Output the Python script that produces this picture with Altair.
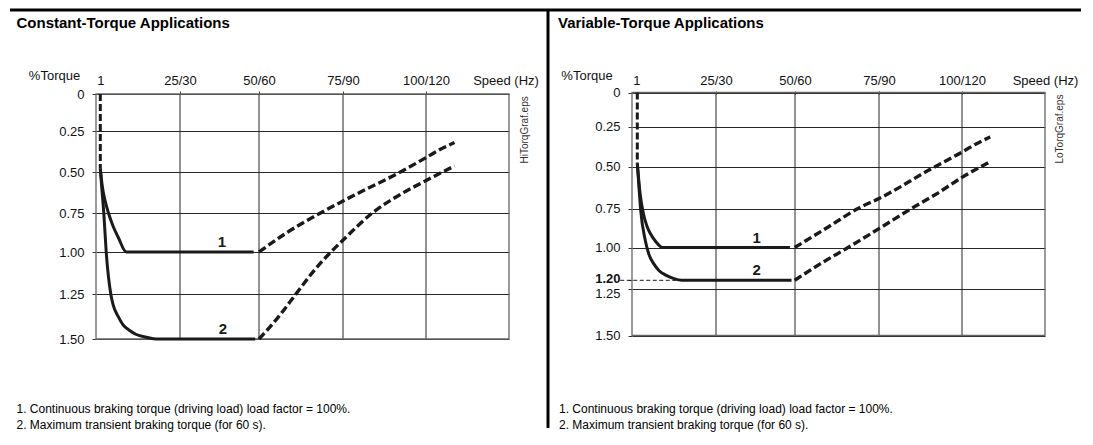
import altair as alt
import pandas as pd

# ---------------- data ----------------
PANEL_TITLES = ["Constant-Torque Applications", "Variable-Torque Applications"]
EPS_NAMES = ["HiTorqGraf.eps", "LoTorqGraf.eps"]
FOOTNOTES = ["1. Continuous braking torque (driving load) load factor = 100%.",
             "2. Maximum transient braking torque (for 60 s)."]
X_TICK_VALUES = [1.3, 25, 50, 75, 100]
X_TICK_LABELS = ["1", "25/30", "50/60", "75/90", "100/120"]
X_GRID = [25, 50, 75, 100]
X_MIN, X_MAX = 0, 125
Y_MIN, Y_MAX = 0, 1.5
Y_TICKS_CT = [0, 0.25, 0.5, 0.75, 1.0, 1.25, 1.5]
Y_TICKS_VT = [0, 0.25, 0.5, 0.75, 1.0, 1.2, 1.25, 1.5]
CURVE_LABELS = ["1", "2"]

# Constant-torque panel
CT_C1_X = [1.28, 1.88, 2.62, 3.66, 5.0, 6.64, 9.02, 48.3]
CT_C1_Y = [0.48, 0.588, 0.668, 0.747, 0.83, 0.907, 1.0, 1.0]
CT_C2_X = [1.28, 1.7, 2.32, 3.04, 4.4, 5.1, 6.67, 8.0, 9.8, 12.0, 15.0, 18.0, 48.8]
CT_C2_Y = [0.48, 0.59, 0.75, 1.0, 1.25, 1.31, 1.377, 1.42, 1.45, 1.475, 1.49, 1.5, 1.5]
CT_D1_X = [50, 58, 68.3, 80, 92.3, 100.2, 104.5, 108.6]
CT_D1_Y = [1.0, 0.88, 0.75, 0.625, 0.5, 0.41, 0.36, 0.32]
CT_D2_X = [50, 55.8, 61, 66, 71.4, 75.2, 83.8, 92, 100.2, 108.6]
CT_D2_Y = [1.5, 1.377, 1.25, 1.12, 1.0, 0.92, 0.75, 0.64, 0.55, 0.463]
CT_VD_X = [1.28, 1.28]
CT_VD_Y = [0, 0.48]
CT_LABEL_X = [38.3, 38.6]
CT_LABEL_Y = [1.0, 1.5]

# Variable-torque panel
VT_C1_X = [1.58, 2.4, 3.4, 4.4, 5.5, 7.0, 9.1, 48.4]
VT_C1_Y = [0.48, 0.66, 0.784, 0.86, 0.912, 0.96, 1.0, 1.0]
VT_C2_X = [1.58, 2.0, 2.6, 3.96, 5.0, 6.5, 8.0, 10.2, 12.5, 14.8, 48.9]
VT_C2_Y = [0.48, 0.6, 0.763, 0.955, 1.04, 1.10, 1.14, 1.17, 1.19, 1.2, 1.2]
VT_D1_X = [49.9, 60, 69.2, 75, 90.6, 100, 104.5, 108.5]
VT_D1_Y = [1.0, 0.867, 0.745, 0.691, 0.515, 0.41, 0.356, 0.315]
VT_D2_X = [49.9, 57.5, 65.8, 75, 84.8, 92, 100, 108.5]
VT_D2_Y = [1.2, 1.1, 1.0, 0.879, 0.75, 0.667, 0.565, 0.469]
VT_VD_X = [1.58, 1.58]
VT_VD_Y = [0, 0.48]
VT_REF_X = [-3.5, 14.8]
VT_REF_Y = [1.2, 1.2]
VT_LABEL_X = [37.9, 37.9]
VT_LABEL_Y = [1.0, 1.2]

# ---------------- scales (piecewise, following the printed grid) ----------------
X_DOMAIN = [0, 25, 50, 75, 100, 125]
X_RANGE = [0, 84, 163, 247, 330, 413]
Y_DOMAIN = [0, 0.25, 0.5, 0.75, 1.0, 1.25, 1.5]
Y_RANGE_CT = [0, 37, 78, 119, 158, 200, 245]
Y_RANGE_VT = [-1.5, 32.5, 72.5, 114.5, 153.5, 194.5, 241.5]
W, H = 413, 245

FONT = "Liberation Sans"
INK = "#1a1a1a"
GRID = "#262626"


def curves_df(curves):
    rows = []
    for name, xs, ys in curves:
        for i, (x, y) in enumerate(zip(xs, ys)):
            rows.append({"series": name, "i": i, "x": x, "y": y})
    return pd.DataFrame(rows)


def x_axis(title_x):
    expr = ""
    for v, lab in zip(X_TICK_VALUES, X_TICK_LABELS):
        expr += f"abs(datum.value - {v}) < 0.01 ? '{lab}' : "
    expr += "''"
    return alt.Axis(
        orient="top", values=X_TICK_VALUES, labelExpr=expr, labelAngle=0,
        labelBaseline="alphabetic", labelPadding=6.5, labelFontSize=13,
        tickSize=3, tickColor="#333",
        tickOpacity={"condition": {"test": "datum.value < 5", "value": 0}, "value": 1},
        grid=False, domain=False, title="Speed (Hz)", titleX=title_x, titleY=-9.5,
        titleAlign="center", titleBaseline="alphabetic", titleAngle=0,
        titleFontWeight="normal", titleFontSize=13, labelOverlap=False,
    )


def y_axis(values, vt=False):
    kw = {}
    if vt:
        kw["labelFontWeight"] = {"condition": {"test": "abs(datum.value - 1.2) < 0.001", "value": "bold"}, "value": "normal"}
        kw["labelOffset"] = {"condition": [
            {"test": "abs(datum.value - 1.25) < 0.001", "value": 5},
            {"test": "abs(datum.value - 1.2) < 0.001", "value": -1.5}], "value": 0}
        kw["gridOpacity"] = {"condition": {"test": "abs(datum.value - 1.2) < 0.001", "value": 0}, "value": 1}
        title_x = -45.5
    else:
        title_x = -42
    return alt.Axis(
        values=values, labelExpr="datum.value == 0 ? '0' : format(datum.value, '.2f')",
        labelFontSize=13, labelPadding=8, tickSize=4, tickColor="#333",
        labelBaseline="middle",
        grid=True, gridColor=GRID, gridWidth=1, domain=False,
        labelOverlap=False, title="%Torque", titleX=title_x, titleY=-15,
        titleAngle=0, titleAlign="center", titleBaseline="alphabetic",
        titleFontWeight="normal", titleFontSize=13, **kw,
    )


def panel(idx, solid, dashed, vdash, labels, yrange, yticks, vt, title_dx,
          foot_dx, eps_dx, xtitle_x, ref=None, decor=False):
    xs = alt.Scale(domain=X_DOMAIN, range=X_RANGE, zero=False, nice=False)
    ys = alt.Scale(domain=Y_DOMAIN, range=yrange, zero=False, nice=False)
    X = alt.X("x:Q", scale=xs, axis=x_axis(xtitle_x))
    Y = alt.Y("y:Q", scale=ys, axis=y_axis(yticks, vt))

    vgrid = pd.DataFrame({"x": X_GRID, "y": [Y_MIN] * len(X_GRID), "y2": [Y_MAX] * len(X_GRID)})
    frame = pd.DataFrame({"x": [X_MIN], "x2": [X_MAX], "y": [Y_MIN], "y2": [Y_MAX]})

    grid_l = alt.Chart(vgrid).mark_rule(color=GRID, strokeWidth=1).encode(
        x=X, y=Y, y2="y2:Q")
    frame_l = alt.Chart(frame).mark_rect(
        fillOpacity=0, stroke="#666", strokeWidth=1.3
    ).encode(x=X, x2="x2:Q", y=Y, y2="y2:Q")
    solid_l = alt.Chart(solid).mark_line(
        color=INK, strokeWidth=3, interpolate="monotone"
    ).encode(x=X, y=Y, detail="series:N", order="i:Q")
    dashed_l = alt.Chart(dashed).mark_line(
        color=INK, strokeWidth=3.4, strokeDash=[8, 3.5], interpolate="monotone"
    ).encode(x=X, y=Y, detail="series:N", order="i:Q")
    vdash_l = alt.Chart(vdash).mark_line(
        color=INK, strokeWidth=3, strokeDash=[7, 3]
    ).encode(x=X, y=Y, order="i:Q")
    lab_l = alt.Chart(labels).mark_text(
        fontSize=15, fontWeight="bold", baseline="bottom", dy=-2, color=INK
    ).encode(x=X, y=Y, text="label:N")
    layers = [grid_l, frame_l, solid_l, dashed_l, vdash_l, lab_l]
    if ref is not None:
        layers.append(alt.Chart(ref).mark_line(
            color=INK, strokeWidth=1, strokeDash=[4, 2.5]
        ).encode(x=X, y=Y))

    one = pd.DataFrame({"k": [0]})
    layers.append(alt.Chart(one).mark_text(
        fontSize=15, fontWeight="bold", align="left", baseline="alphabetic", color="black"
    ).encode(x=alt.value(title_dx), y=alt.value(-66.5), text=alt.value(PANEL_TITLES[idx])))
    layers.append(alt.Chart(one).mark_text(
        fontSize=12, align="left", baseline="alphabetic", lineHeight=16, color="black"
    ).encode(x=alt.value(foot_dx), y=alt.value(319), text=alt.value(FOOTNOTES)))
    layers.append(alt.Chart(one).mark_text(
        fontSize=10, angle=270, align="left", baseline="middle", color="#333"
    ).encode(x=alt.value(eps_dx), y=alt.value(69.5), text=alt.value(EPS_NAMES[idx])))
    if decor:
        layers.append(alt.Chart(one).mark_rule(color="black", strokeWidth=3).encode(
            x=alt.value(-86), x2=alt.value(985), y=alt.value(-84), y2=alt.value(-84)))
        layers.append(alt.Chart(one).mark_rule(color="black", strokeWidth=3).encode(
            x=alt.value(452), x2=alt.value(452), y=alt.value(-84), y2=alt.value(334)))
    return alt.layer(*layers).properties(width=W, height=H)


ct_solid = curves_df([("1", CT_C1_X, CT_C1_Y), ("2", CT_C2_X, CT_C2_Y)])
ct_dashed = curves_df([("1", CT_D1_X, CT_D1_Y), ("2", CT_D2_X, CT_D2_Y)])
ct_vd = curves_df([("v", CT_VD_X, CT_VD_Y)])
ct_lab = pd.DataFrame({"x": CT_LABEL_X, "y": CT_LABEL_Y, "label": CURVE_LABELS})

vt_solid = curves_df([("1", VT_C1_X, VT_C1_Y), ("2", VT_C2_X, VT_C2_Y)])
vt_dashed = curves_df([("1", VT_D1_X, VT_D1_Y), ("2", VT_D2_X, VT_D2_Y)])
vt_vd = curves_df([("v", VT_VD_X, VT_VD_Y)])
vt_ref = pd.DataFrame({"x": VT_REF_X, "y": VT_REF_Y})
vt_lab = pd.DataFrame({"x": VT_LABEL_X, "y": VT_LABEL_Y, "label": CURVE_LABELS})

left = panel(0, ct_solid, ct_dashed, ct_vd, ct_lab, Y_RANGE_CT, Y_TICKS_CT, False,
             title_dx=-79.5, foot_dx=-79.5, eps_dx=428.5, xtitle_x=409.5, decor=True)
right = panel(1, vt_solid, vt_dashed, vt_vd, vt_lab, Y_RANGE_VT, Y_TICKS_VT, True,
              title_dx=-74, foot_dx=-73, eps_dx=428, xtitle_x=413, ref=vt_ref)

chart = alt.hconcat(left, right, spacing=123, bounds="flush").properties(
    padding={"left": 0, "top": 0, "right": 0, "bottom": 3}, background="white"
).configure_view(
    strokeWidth=0
).configure_axis(
    labelFont=FONT, titleFont=FONT, labelColor="#111", titleColor="#111"
).configure_text(font=FONT)

chart.save("out.html", embed_options={"renderer": "svg", "actions": False})
